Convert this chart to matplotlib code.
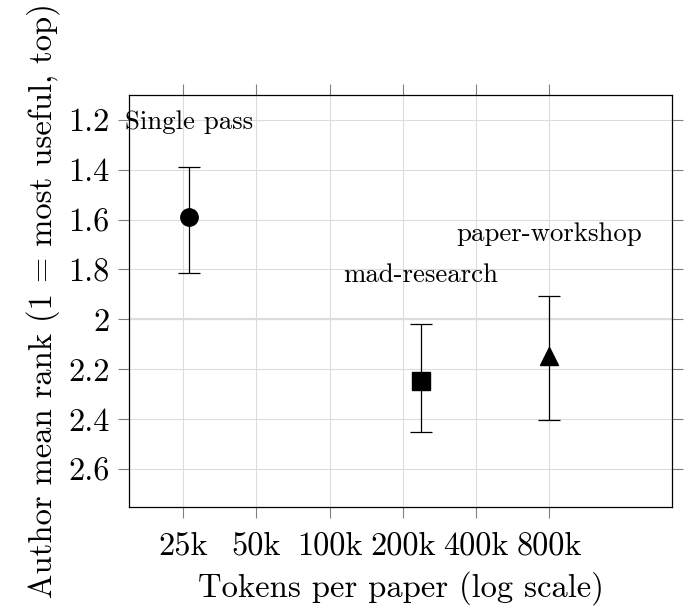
import matplotlib.pyplot as plt
from matplotlib.ticker import FixedLocator, FixedFormatter, NullLocator

plt.rcParams["font.family"] = ["cmr10", "DejaVu Serif"]
plt.rcParams["axes.formatter.use_mathtext"] = True
plt.rcParams["mathtext.fontset"] = "cm"

# Data
methods = ["Single pass", "mad-research", "paper-workshop"]
tokens = [26450, 238000, 800000]
mean_rank = [1.59, 2.248, 2.148]
err_low = [0.202, 0.228, 0.240]   # towards "better" (smaller rank)
err_high = [0.225, 0.203, 0.256]
markers = ["o", "s", "^"]
label_y = [1.236, 1.850, 1.686]

x_ticks = [25000, 50000, 100000, 200000, 400000, 800000]
x_ticklabels = ["25k", "50k", "100k", "200k", "400k", "800k"]
y_ticks = [1.2, 1.4, 1.6, 1.8, 2.0, 2.2, 2.4, 2.6]
y_ticklabels = ["1.2", "1.4", "1.6", "1.8", "2", "2.2", "2.4", "2.6"]

fig = plt.figure(figsize=(6.94, 6.16), dpi=100)
ax = fig.add_axes([0.186, 0.177, 0.782, 0.669])

ax.set_xscale("log")
ax.set_xlim(15000, 2.55e6)
ax.set_ylim(2.752, 1.1)

ax.grid(True, color="#dcdcdc", linewidth=0.8)
ax.axhline(2.0, color="#dcdcdc", linewidth=1.6, zorder=0.5)
ax.set_axisbelow(True)

for x, y, lo, hi, m in zip(tokens, mean_rank, err_low, err_high, markers):
    ax.errorbar([x], [y], yerr=[[lo], [hi]], fmt=m, color="black",
                markersize=12.5, capsize=8, elinewidth=0.9, capthick=0.9)

for name, x, ly in zip(methods, tokens, label_y):
    ax.text(x, ly, name, ha="center", va="baseline", fontsize=19.3)

ax.xaxis.set_major_locator(FixedLocator(x_ticks))
ax.xaxis.set_major_formatter(FixedFormatter(x_ticklabels))
ax.xaxis.set_minor_locator(NullLocator())
ax.yaxis.set_major_locator(FixedLocator(y_ticks))
ax.yaxis.set_major_formatter(FixedFormatter(y_ticklabels))

ax.tick_params(axis="both", which="major", direction="out", length=8,
               width=0.8, color="#808080", labelsize=23.3, pad=6,
               top=True, right=True)
ax.tick_params(axis="x", pad=9.5)

for s in ax.spines.values():
    s.set_linewidth(0.9)

ax.set_xlabel("Tokens per paper (log scale)", fontsize=23.5, labelpad=8)
ax.set_ylabel("Author mean rank (1 = most useful, top)", fontsize=23.5, labelpad=6)

fig.savefig("out.png", dpi=100)
